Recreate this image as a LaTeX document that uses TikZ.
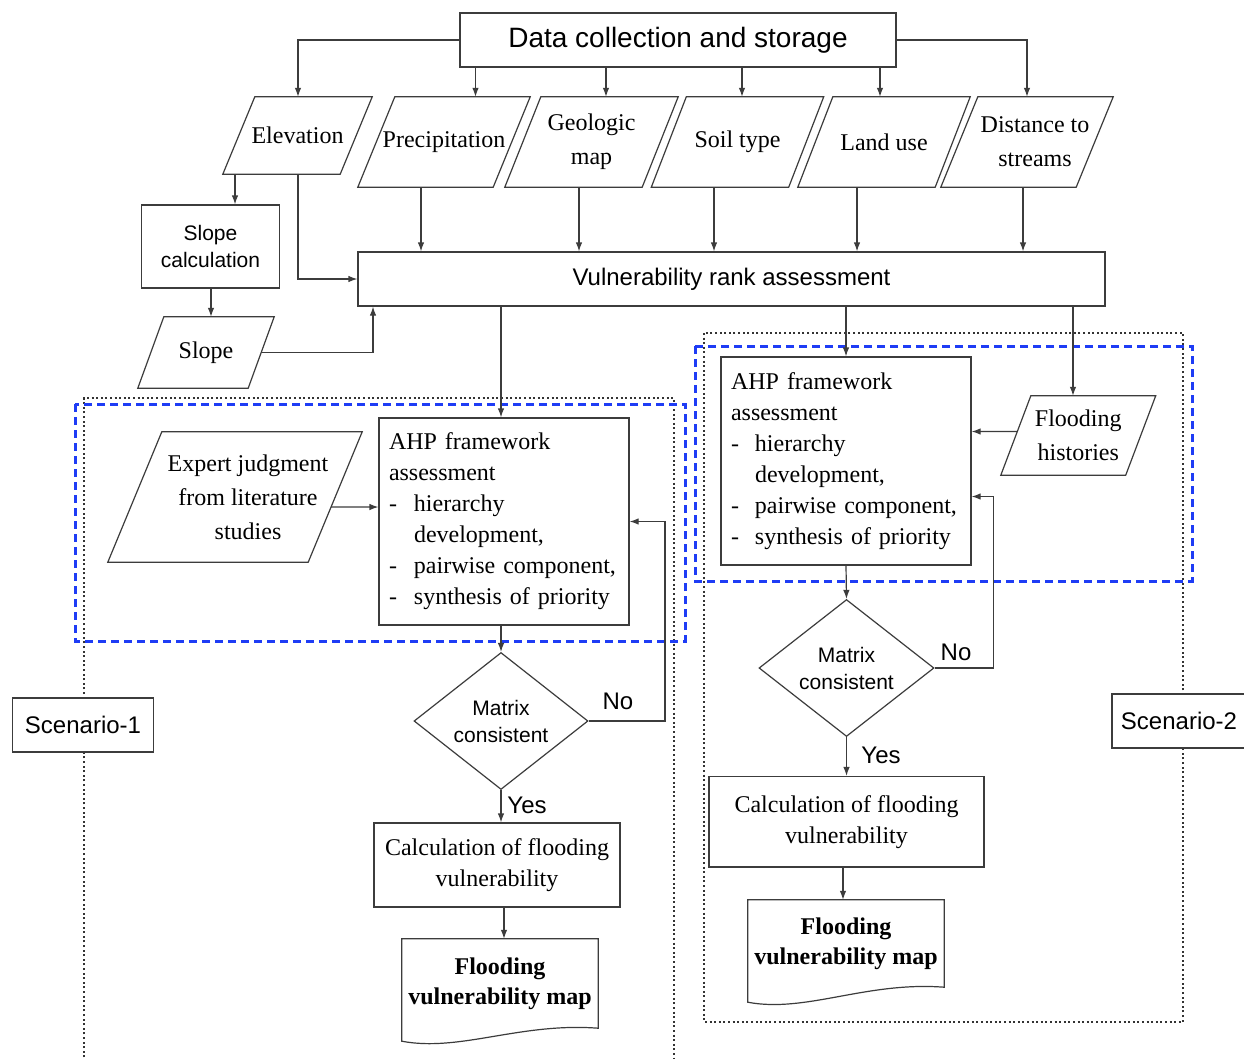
\documentclass[tikz,border=0pt]{standalone}
\usepackage{fontspec}
\setmainfont{Liberation Serif}
\setsansfont{Liberation Sans}
\usetikzlibrary{arrows.meta,calc,shapes.geometric}
\definecolor{blueD}{RGB}{30,60,245}
\definecolor{lineC}{RGB}{60,60,60}
\newcommand\drawpara[2]{\draw[shp] (#1.south west) -- ([xshift=#2pt]#1.north west) -- (#1.north east) -- ([xshift=-#2pt]#1.south east) -- cycle;}
\newcommand\drawdoc[2]{\draw[shp] (#1.south east) -- (#1.north east) -- (#1.north west) -- ($(#1.south west)+(0,#2)$) .. controls ($(#1.south west)+(58,#2+11)$) and ($(#1.south east)+(-78,-6)$) .. (#1.south east) -- cycle;}
\tikzset{
  shp/.style={draw=lineC, line width=1.2pt},
  ln/.style={draw=lineC, line width=1.2pt},
  arr/.style={ln, -{Latex[length=9pt,width=6.5pt]}},
  boxn/.style={rectangle, draw=lineC, line width=1.2pt, inner sep=0pt, align=center, fill=white},
  paran/.style={rectangle, inner sep=0pt, align=center},
  serifL/.style={font=\fontsize{24}{34}\selectfont},
  serifB/.style={font=\fontsize{24}{31}\selectfont},
  sansD/.style={font=\sffamily\fontsize{28}{34}\selectfont},
  sansM/.style={font=\sffamily\fontsize{24}{30}\selectfont},
  sansS/.style={font=\sffamily\fontsize{21}{27}\selectfont},
  dotbox/.style={draw=black!80, line width=1.8pt, dash pattern=on 2pt off 2.6pt},
  bluebox/.style={draw=blueD, line width=3pt, dash pattern=on 8pt off 5pt},
}
\begin{document}
\begin{tikzpicture}[x=1pt,y=-1pt]
\useasboundingbox (0,0) rectangle (1244,1058);
\fill[white] (0,0) rectangle (1244,1058);

% scenario frames
\draw[dotbox] (84,1062) -- (84,398) -- (674,398) -- (674,1062);
\draw[dotbox] (704,333) rectangle (1183,1022);
\draw[bluebox] (75,404) rectangle (685,641);
\draw[bluebox] (695,346) rectangle (1192,581);

% top
\node[boxn, sansD, minimum width=436pt, minimum height=54pt] (data) at (678,40) {Data collection and storage};

\node[paran, serifL, minimum width=149pt, minimum height=77pt] (elev) at (297.5,135.5) {Elevation};
\node[paran, serifL, minimum width=172pt, minimum height=90pt] (prec) at (444,142) {Precipitation};
\node[paran, serifL, minimum width=173pt, minimum height=90pt] (geo) at (591.5,142) {Geologic\\map};
\node[paran, serifL, minimum width=172pt, minimum height=90pt] (soil) at (737.5,142) {Soil type};
\node[paran, serifL, minimum width=172pt, minimum height=90pt] (land) at (884,142) {Land use};
\node[paran, serifL, minimum width=172pt, minimum height=90pt] (dist) at (1027,142) {\hspace*{16pt}Distance to\\\hspace*{16pt}streams};
\drawpara{elev}{32}
\drawpara{prec}{37}
\drawpara{geo}{36}
\drawpara{soil}{35}
\drawpara{land}{35}
\drawpara{dist}{37}

\node[boxn, sansM, minimum width=747pt, minimum height=54pt] (vuln) at (731.5,279) {Vulnerability rank assessment};

\node[boxn, sansS, minimum width=138pt, minimum height=83pt] (slopecalc) at (210.5,246.5) {Slope\\calculation};
\node[paran, serifL, minimum width=136pt, minimum height=71pt] (slope) at (206,352.5) {Slope};
\drawpara{slope}{26}

% scenario 1
\node[paran, serifL, minimum width=254pt, minimum height=130pt] (expert) at (235,497) {\hspace*{26pt}Expert judgment\\\hspace*{26pt}from literature\\\hspace*{26pt}studies};
\drawpara{expert}{54}

\node[boxn, serifB, minimum width=250pt, minimum height=207pt, text width=230pt, align=left] (ahp1) at (504,521.5) {AHP framework\\assessment\\\makebox[25pt][l]{-}hierarchy\\\hspace*{25pt}development,\\\makebox[25pt][l]{-}pairwise component,\\\makebox[25pt][l]{-}synthesis of priority};

\node[diamond, draw=lineC, line width=1.2pt, fill=white, inner sep=0pt, minimum width=174pt, minimum height=129pt, sansS, align=center] (dia1) at (501,721) {Matrix\\consistent};

\node[boxn, serifB, minimum width=246pt, minimum height=84pt] (calc1) at (497,865) {Calculation of flooding\\vulnerability};

\node[paran, font=\bfseries\fontsize{24}{30}\selectfont, minimum width=196pt, minimum height=89pt] (doc1) at (500,983.5) {Flooding\\vulnerability map};
\drawdoc{doc1}{13}

\node[sansM] (no1) at (618,701) {No};
\node[sansM] (yes1) at (527,805) {Yes};

\node[boxn, sansM, minimum width=141pt, minimum height=54pt] (sc1) at (83,725) {Scenario-1};

% scenario 2
\node[boxn, serifB, minimum width=250pt, minimum height=208pt, text width=230pt, align=left] (ahp2) at (846,461) {AHP framework\\assessment\\\makebox[24pt][l]{-}hierarchy\\\hspace*{24pt}development,\\\makebox[24pt][l]{-}pairwise component,\\\makebox[24pt][l]{-}synthesis of priority};

\node[paran, serifL, minimum width=154.5pt, minimum height=79pt] (fh) at (1078.25,435.5) {Flooding\\histories};
\drawpara{fh}{30}

\node[diamond, draw=lineC, line width=1.2pt, fill=white, inner sep=0pt, minimum width=175pt, minimum height=129pt, sansS, align=center] (dia2) at (846.5,668) {Matrix\\consistent};

\node[boxn, serifB, minimum width=275pt, minimum height=90.5pt] (calc2) at (846.5,821.75) {Calculation of flooding\\vulnerability};

\node[paran, font=\bfseries\fontsize{24}{30}\selectfont, minimum width=196pt, minimum height=87pt] (doc2) at (846,943.5) {Flooding\\vulnerability map};
\drawdoc{doc2}{15}

\node[sansM] (no2) at (956,652) {No};
\node[sansM] (yes2) at (881,755) {Yes};

\node[boxn, sansM, minimum width=134pt, minimum height=54pt] (sc2) at (1179,721) {Scenario-2};

% connectors: data -> inputs
\draw[arr] (data.west) -| (elev.north -| 298,0);
\draw[arr] (data.east) -| (dist.north -| 1027,0);
\draw[arr] (data.south -| 475.5,0) -- (prec.north -| 475.5,0);
\draw[arr] (data.south -| 606,0) -- (geo.north -| 606,0);
\draw[arr] (data.south -| 742,0) -- (soil.north -| 742,0);
\draw[arr] (data.south -| 880,0) -- (land.north -| 880,0);

% inputs -> vulnerability
\draw[arr] (prec.south -| 421,0) -- (vuln.north -| 421,0);
\draw[arr] (geo.south -| 579,0) -- (vuln.north -| 579,0);
\draw[arr] (soil.south -| 714,0) -- (vuln.north -| 714,0);
\draw[arr] (land.south -| 857,0) -- (vuln.north -| 857,0);
\draw[arr] (dist.south -| 1023,0) -- (vuln.north -| 1023,0);
\draw[arr] (elev.south -| 298,0) |- (vuln.west);
\draw[arr] (elev.south -| 235,0) -- (slopecalc.north -| 235,0);
\draw[arr] (slopecalc.south -| 211,0) -- (slope.north -| 211,0);
\draw[arr] ($(slope.north east)!0.5!([xshift=-26pt]slope.south east)$) -| (vuln.south -| 373,0);

% vulnerability -> scenarios
\draw[arr] (vuln.south -| 501,0) -- (ahp1.north -| 501,0);
\draw[arr] (vuln.south -| 846,0) -- (ahp2.north);
\draw[arr] (vuln.south -| 1073,0) -- (fh.north -| 1073,0);

% scenario 1 flow
\draw[arr] ($(expert.north east)!0.577!([xshift=-54pt]expert.south east)$) -- (ahp1.west |- 0,507);
\draw[arr] (ahp1.south -| 501,0) -- (dia1.north);
\draw[arr] (dia1.east) -- (dia1.east -| 665,0) |- (ahp1.east);
\draw[arr] (dia1.south) -- (dia1.south |- calc1.north);
\draw[arr] (calc1.south -| 504,0) -- (doc1.north -| 504,0);

% scenario 2 flow
\draw[arr] ($([xshift=30pt]fh.north west)!0.45!(fh.south west)$) -- (ahp2.east |- 0,431.5);
\draw[arr] (ahp2.south) -- (dia2.north);
\draw[arr] (dia2.east) -- (dia2.east -| 993.7,0) |- (ahp2.east |- 0,496.5);
\draw[arr] (dia2.south) -- (dia2.south |- calc2.north);
\draw[arr] (calc2.south -| 843,0) -- (doc2.north -| 843,0);
\end{tikzpicture}
\end{document}
